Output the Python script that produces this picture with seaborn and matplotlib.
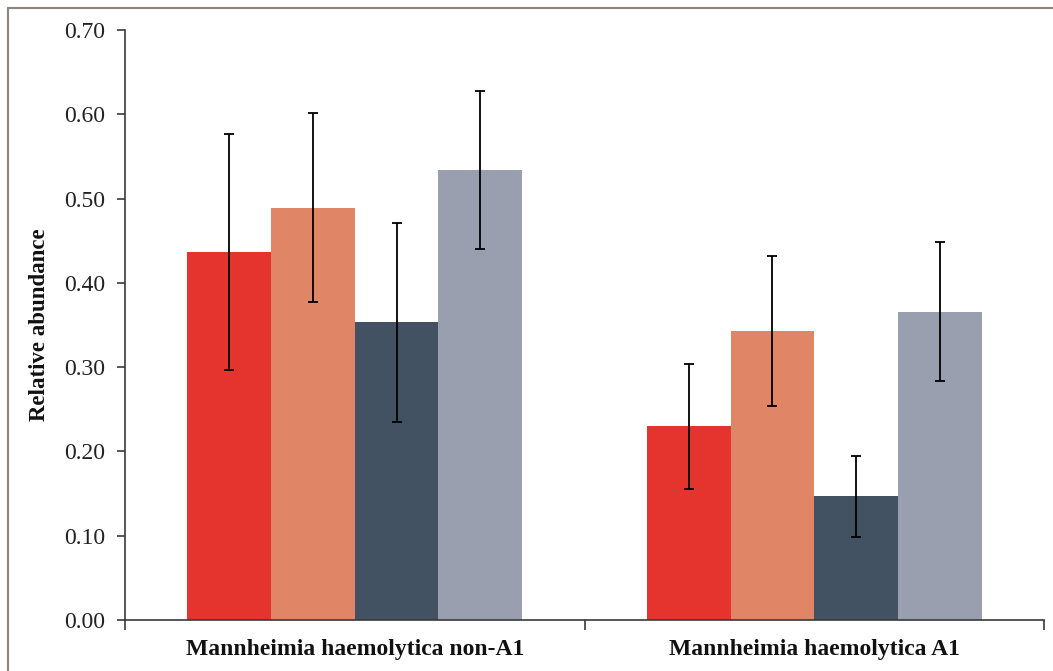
import matplotlib
matplotlib.use("Agg")
import matplotlib.pyplot as plt
from matplotlib.lines import Line2D
from matplotlib.ticker import FixedLocator, FormatStrFormatter
import seaborn as sns
import pandas as pd

# Data
categories = ["Mannheimia haemolytica non-A1", "Mannheimia haemolytica A1"]
series = ["S1", "S2", "S3", "S4"]
values = {
    "S1": [0.437, 0.230],
    "S2": [0.489, 0.343],
    "S3": [0.353, 0.147],
    "S4": [0.534, 0.366],
}
errors = {
    "S1": [0.140, 0.074],
    "S2": [0.112, 0.089],
    "S3": [0.118, 0.048],
    "S4": [0.094, 0.083],
}
colors = ["#E5342E", "#E08566", "#425262", "#9A9FAF"]
y_ticks = [0.0, 0.1, 0.2, 0.3, 0.4, 0.5, 0.6, 0.7]

rows = []
for s in series:
    for c, v in zip(categories, values[s]):
        rows.append({"category": c, "series": s, "value": v})
df = pd.DataFrame(rows)

sns.set_theme(style="white")
plt.rcParams["font.family"] = ["Liberation Serif", "DejaVu Serif"]

fig = plt.figure(figsize=(10.53, 6.71), dpi=100)
ax = fig.add_axes([125 / 1053, 1 - 620 / 671, (1044 - 125) / 1053, 590 / 671])

sns.barplot(data=df, x="category", y="value", hue="series", order=categories,
            hue_order=series, palette=colors, saturation=1, width=0.728,
            errorbar=None, legend=False, linewidth=0, ax=ax)

# error bars placed at the centre of each drawn bar
for s, cont in zip(series, ax.containers):
    for bar, err in zip(cont, errors[s]):
        xc = bar.get_x() + bar.get_width() / 2
        ax.errorbar(xc, bar.get_height(), yerr=err, fmt="none", ecolor="black",
                    elinewidth=1.3, capsize=3.6, capthick=1.3, zorder=5)

ax.set_xlim(-0.5, 1.5)
ax.set_ylim(0, 0.70)
ax.yaxis.set_major_locator(FixedLocator(y_ticks))
ax.yaxis.set_major_formatter(FormatStrFormatter("%.2f"))

for side in ("top", "right"):
    ax.spines[side].set_visible(False)
for side in ("left", "bottom"):
    ax.spines[side].set_color("#3a3a3a")
    ax.spines[side].set_linewidth(1.2)

ax.tick_params(axis="y", which="major", direction="out", length=6, width=1.2,
               color="#3a3a3a", labelsize=17, labelcolor="#222222", pad=8, left=True)
ax.xaxis.set_minor_locator(FixedLocator([-0.5, 0.5, 1.5]))
ax.tick_params(axis="x", which="major", length=0, pad=14)
ax.tick_params(axis="x", which="minor", direction="out", length=7, width=1.2,
               color="#3a3a3a", bottom=True)
for lbl in ax.get_xticklabels():
    lbl.set_fontweight("bold")
    lbl.set_fontsize(17)
    lbl.set_color("#111111")

ax.set_xlabel("")
ax.set_ylabel("Relative abundance", fontsize=16.5, fontweight="bold", color="#111111")
ax.yaxis.set_label_coords(-75 / 919, 0.5)
ax.grid(False)

# frame lines along the top and left edges of the figure
fig.add_artist(Line2D([8 / 1053, 1], [1 - 8 / 671, 1 - 8 / 671],
                      transform=fig.transFigure, color="#8a8580", lw=1.5))
fig.add_artist(Line2D([8 / 1053, 8 / 1053], [0, 1 - 8 / 671],
                      transform=fig.transFigure, color="#8a8580", lw=1.5))

fig.savefig("out.png", dpi=100, facecolor="white")
